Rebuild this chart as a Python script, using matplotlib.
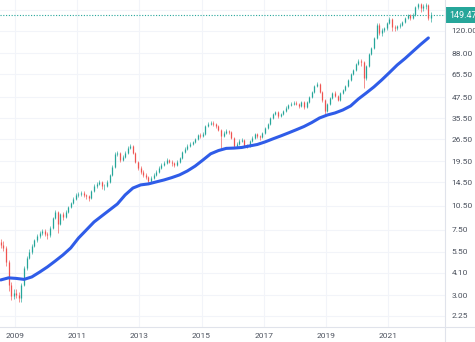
import numpy as np
import matplotlib.pyplot as plt
from matplotlib.lines import Line2D

plt.rcParams['font.family'] = ['Roboto', 'DejaVu Sans']

# monthly candles, Jul 2008 .. May 2022
start_year = 2008.5
first_open = 6.30
closes = [
    6.06, 5.81, 4.78, 3.47, 2.97, 3.10,
    3.02, 2.89, 3.47, 4.39, 5.05, 5.49, 5.97, 6.49, 6.87, 7.16, 7.36, 7.06,
    6.92, 7.68, 8.83, 9.60, 8.12, 9.33, 8.90, 9.65, 10.29, 10.88, 11.50, 12.17,
    12.34, 12.51, 12.10, 11.95, 11.66, 12.86, 13.79, 14.18, 14.58, 13.70, 13.85, 14.58,
    16.08, 17.98, 21.55, 21.85, 19.82, 20.68, 21.85, 23.43, 24.09, 21.85, 19.28, 17.73,
    16.77, 16.08, 15.64, 14.79, 15.42, 16.08, 16.77, 17.73, 18.49, 19.01, 19.82, 19.28,
    18.90, 18.49, 19.28, 20.38, 22.16, 23.10, 24.09, 24.78, 25.47, 26.57, 28.08, 27.70,
    28.48, 31.84, 32.75, 33.20, 32.60, 31.84, 30.20, 27.70, 28.89, 29.70, 29.28, 26.94,
    24.09, 24.78, 25.83, 26.20, 24.20, 24.09, 25.83, 26.94, 28.48, 27.70, 27.30, 28.89,
    30.96, 32.75, 35.61, 37.65, 38.70, 36.60, 37.65, 39.26, 41.00, 42.70, 43.30, 43.90,
    43.30, 42.10, 44.50, 41.50, 44.50, 47.70, 51.20, 55.60, 57.20, 51.20, 45.80, 39.26,
    43.30, 47.00, 50.40, 48.40, 45.80, 50.40, 52.60, 55.60, 60.50, 65.70, 69.50, 75.60,
    78.80, 77.80, 62.20, 73.50, 86.90, 94.60, 108.70, 130.20, 116.50, 121.50, 124.00, 134.00,
    141.60, 127.00, 124.00, 127.50, 130.20, 135.70, 143.60, 149.50, 143.60, 149.50, 167.40, 174.60,
    166.00, 169.90, 172.00, 143.00, 149.47,
]
highs = [
    6.6, 6.4, 6.0, 4.9, 3.6, 3.3,
    3.3, 3.15, 3.55, 4.5, 5.2, 5.7, 6.1, 6.6, 7.05, 7.4, 7.6, 7.55,
    7.3, 7.85, 9.0, 9.85, 9.7, 9.5, 9.6, 9.9, 10.5, 11.1, 11.8, 12.5,
    12.7, 12.9, 12.8, 12.4, 12.2, 13.1, 14.1, 14.6, 14.9, 14.8, 14.2, 14.9,
    16.4, 18.4, 22.0, 22.5, 22.1, 21.2, 22.4, 24.0, 24.8, 24.4, 22.2, 19.6,
    18.1, 17.2, 16.5, 15.9, 15.8, 16.5, 17.2, 18.1, 18.9, 19.5, 20.3, 20.2,
    19.7, 19.3, 19.7, 20.8, 22.6, 23.6, 24.6, 25.3, 26.0, 27.1, 28.6, 28.7,
    29.1, 32.4, 33.5, 34.0, 33.9, 33.0, 32.2, 30.6, 29.5, 30.4, 30.3, 29.6,
    27.2, 25.4, 26.4, 26.8, 26.5, 24.8, 26.3, 27.5, 29.0, 28.9, 28.2, 29.4,
    31.5, 33.3, 36.2, 38.3, 39.5, 39.2, 38.3, 40.0, 41.8, 43.5, 44.2, 44.8,
    45.0, 44.0, 45.3, 45.0, 45.2, 48.5, 52.0, 56.5, 58.5, 57.8, 52.0, 46.5,
    44.0, 47.8, 51.3, 51.6, 49.0, 51.2, 53.6, 56.6, 61.5, 66.8, 70.8, 76.8,
    80.5, 81.0, 78.5, 74.5, 88.0, 96.0, 110.5, 134.0, 133.0, 124.0, 127.0, 136.0,
    145.0, 144.0, 130.0, 131.0, 134.0, 138.0, 146.0, 151.0, 152.0, 153.0, 170.0, 178.0,
    176.0, 174.0, 177.0, 174.0, 156.0,
]
lows = [
    5.8, 5.6, 4.5, 3.2, 2.8, 2.85,
    2.9, 2.73, 2.75, 3.4, 4.3, 4.95, 5.35, 5.85, 6.35, 6.7, 6.95, 6.9,
    6.6, 6.8, 7.6, 8.7, 7.2, 8.0, 8.6, 8.8, 9.5, 10.1, 10.7, 11.4,
    11.9, 12.0, 11.8, 11.5, 11.2, 11.5, 12.7, 13.5, 13.9, 13.2, 13.1, 13.6,
    14.4, 15.9, 17.8, 20.9, 19.3, 19.5, 20.4, 21.6, 23.0, 21.4, 18.9, 17.3,
    16.3, 15.6, 15.2, 14.3, 14.6, 15.2, 15.8, 16.5, 17.4, 18.1, 18.7, 18.9,
    18.3, 17.9, 18.2, 19.0, 20.1, 21.8, 22.8, 23.7, 24.4, 25.1, 26.2, 27.0,
    27.2, 28.2, 31.4, 32.2, 32.0, 31.0, 29.6, 23.4, 27.2, 28.4, 28.6, 26.4,
    23.6, 23.4, 24.4, 25.4, 23.6, 23.3, 23.8, 25.5, 26.6, 27.1, 26.3, 27.0,
    28.6, 30.6, 32.4, 35.2, 37.0, 35.8, 36.0, 37.2, 38.8, 40.5, 41.9, 42.6,
    42.4, 40.8, 41.6, 40.6, 41.0, 44.0, 47.2, 50.6, 54.8, 50.2, 44.6, 37.8,
    38.5, 42.8, 46.5, 47.6, 44.8, 45.2, 49.8, 51.9, 55.0, 59.8, 64.9, 68.8,
    74.5, 74.0, 54.2, 60.5, 72.5, 85.5, 93.5, 107.5, 113.0, 112.0, 118.0, 122.0,
    132.0, 119.0, 120.0, 122.0, 125.0, 128.0, 133.0, 141.0, 140.0, 142.0, 147.0, 162.0,
    155.0, 158.0, 163.0, 139.0, 135.0,
]
# moving average, one reading per quarter
ma_values = [
    3.72, 3.83, 3.80, 3.75, 3.88, 4.15, 4.46, 4.84, 5.27, 5.81,
    6.67, 7.46, 8.35, 9.08, 9.87, 10.73, 12.17, 13.4, 14.0, 14.2,
    14.6, 15.0, 15.5, 16.1, 17.0, 18.2, 19.8, 21.6, 22.6, 23.3,
    23.4, 23.6, 24.1, 24.6, 25.5, 26.6, 27.7, 28.9, 30.2, 31.6,
    33.4, 35.6, 37.1, 38.2, 39.8, 42.1, 46.4, 50.4, 54.9, 60.5,
    67.1, 74.6, 81.6, 90.0, 99.2, 108.7,
]
yticks = [2.25, 3.00, 4.10, 5.50, 7.50, 10.50, 14.50, 19.50, 26.50,
          35.50, 47.50, 65.50, 88.00, 120.00, 160.00]
year_ticks = [2009, 2011, 2013, 2015, 2017, 2019, 2021]

up = "#26a69a"
down = "#ef5350"

c = np.array(closes)
o = np.array([first_open] + closes[:-1])
dates = start_year + (np.arange(len(c)) + 0.5) / 12
cols = np.where(c >= o, up, down)

fig = plt.figure(figsize=(4.75, 3.42), dpi=100)
ax = fig.add_axes([0, 15 / 342, 445 / 475, 327 / 342])

ax.vlines(dates, lows, highs, colors=cols, lw=0.45, zorder=2)
ax.vlines(dates, np.minimum(o, c), np.maximum(o, c), colors=cols, lw=0.9, zorder=2)
ax.plot(dates[::3], ma_values, color="#2f5ce8", lw=2.2, solid_capstyle="round", zorder=3)

ax.set_yscale("log")
ax.minorticks_off()
ax.set_ylim(1.93, 184.5)
ax.set_xlim(2008.518, 2022.827)

ax.set_yticks(yticks)
ax.set_yticklabels([f"{v:.2f}" for v in yticks])
ax.set_xticks(year_ticks)
ax.set_xticklabels([str(y) for y in year_ticks])
ax.yaxis.tick_right()
ax.tick_params(length=0, labelsize=6, colors="#4c525e")
ax.tick_params(axis="y", pad=4.8)
ax.tick_params(axis="x", pad=4.5)
ax.grid(color="#f2f4f9", lw=0.8, zorder=0)
ax.set_axisbelow(True)
for s in ax.spines.values():
    s.set_visible(False)

fig.add_artist(Line2D([445 / 475, 445 / 475], [0, 1], transform=fig.transFigure,
                      color="#e0e3eb", lw=0.8))
fig.add_artist(Line2D([0, 1], [15 / 342, 15 / 342], transform=fig.transFigure,
                      color="#e0e3eb", lw=0.8))

# last price line and label
ax.axhline(closes[-1], color=up, lw=0.8, ls=(0, (1, 1.5)), zorder=1)
ax.annotate(f"{closes[-1]:.2f}", xy=(1, closes[-1]), xycoords=ax.get_yaxis_transform(),
            xytext=(3, 0), textcoords="offset points", ha="left", va="center",
            color="white", fontsize=6.5,
            bbox=dict(boxstyle="square,pad=0.4", fc=up, ec="none"),
            annotation_clip=False, zorder=5)

fig.savefig("out.png", dpi=100)
